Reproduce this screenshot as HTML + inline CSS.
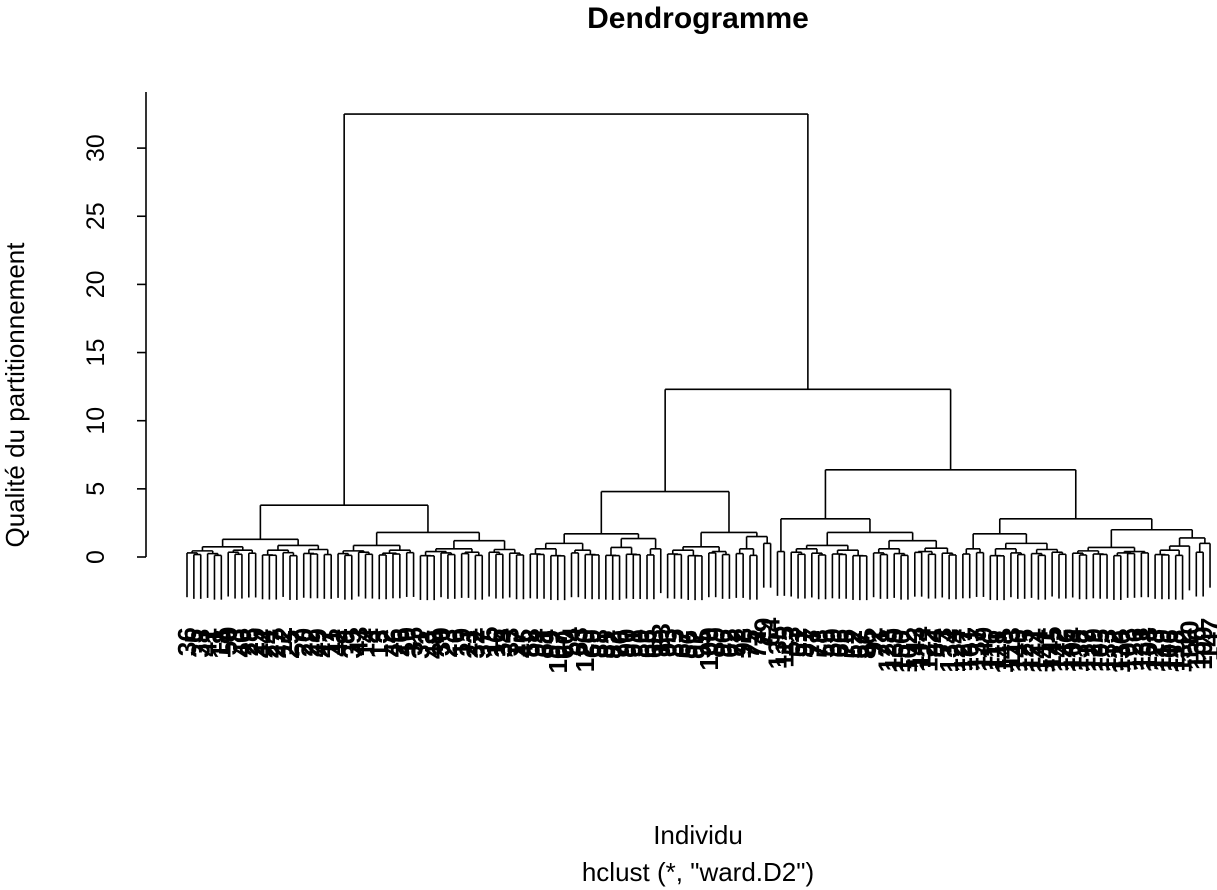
<!DOCTYPE html>
<html><head><meta charset="utf-8"><style>
body{margin:0;background:#fff;}
svg{display:block;font-family:"Liberation Sans",sans-serif;}
</style></head><body>
<svg id="c" width="1217" height="890" xmlns="http://www.w3.org/2000/svg">
<text x="698" y="28" font-size="30" font-weight="bold" text-anchor="middle">Dendrogramme</text>
<text x="698" y="844" font-size="26" text-anchor="middle">Individu</text>
<text x="698" y="881" font-size="26" text-anchor="middle">hclust (*, "ward.D2")</text>
<text transform="translate(24,395) rotate(-90)" font-size="26" text-anchor="middle">Qualité du partitionnement</text>
<g id="axis"></g>
<g id="tree" stroke="#000" stroke-width="1.6" fill="none"></g>
<g id="labels" font-size="26" font-weight="bold"></g>
</svg>
<script>
const treeSpec = [32.5,
  [3.8,
    [1.3, [0.75,[0.45,3,3],[0.5,3,2]], [0.85,[0.5,3,3],[0.55,3,2]]],
    [1.8, [0.85,[0.45,3,3],[0.5,4,2]], [1.2,[0.6,[0.4,3,3],[0.35,2,2]],[0.55,3,3]]]
  ],
  [12.3,
    [4.8,
      [1.7,[1.0,[0.6,3,3],[0.5,2,3]],[1.35,[0.7,3,3],[0.6,2,1]]],
      [1.8,[0.75,[0.5,3,3],[0.4,2,2]],[1.5,[0.6,2,2],[1.0,1,1]]]
    ],
    [6.4,
      [2.8,[0.4,1,1],[1.8,[0.85,[0.6,3,3],[0.5,3,3]],[1.2,[0.6,3,3],[0.65,[0.4,2,2],3]]]],
      [2.8,
        [1.7,[0.6,2,2],[1.0,[0.6,3,3],[0.55,3,3]]],
        [2.0,[0.7,[0.45,3,3],[0.4,[0.3,2,2],2]],[1.4,[0.8,[0.5,3,2],1],[1.0,2,1]]]
      ]
    ]
  ]
];
const blockHeights = [0.3,0.18,0.25,0.12,0.35,0.2,0.28,0.15,0.22,0.32,0.1,0.26];
const leafLabels = [36,5,38,41,1,18,50,8,40,28,29,44,24,27,12,25,7,20,22,49,47,11,
  42,9,39,43,14,4,13,2,46,26,10,35,31,3,48,30,23,6,19,21,32,37,15,16,34,33,17,45,
  58,94,61,99,107,60,54,63,120,69,88,81,82,70,90,91,80,65,68,83,
  93,85,67,56,97,95,100,89,96,62,72,98,75,74,79,64,
  135,115,53,51,87,77,78,55,59,66,76,52,57,86,92,71,128,139,150,102,143,114,122,84,73,134,124,127,
  101,137,149,116,111,148,113,140,125,121,144,141,145,142,146,104,
  138,117,129,105,133,112,130,103,126,131,108,123,119,106,118,132,110,136,109,147];
const yTicks = [0,5,10,15,20,25,30];

const X0=187, DX=6.866, Y0=557, KY=13.63, HANG=3.25;
const yS = v => Y0 - v*KY;
const tree=document.getElementById('tree'), lab=document.getElementById('labels'), ax=document.getElementById('axis');
const NS='http://www.w3.org/2000/svg';
let leafIdx=0, bh=0;
function line(x1,y1,x2,y2,name){
  const l=document.createElementNS(NS,'line');
  l.setAttribute('x1',x1);l.setAttribute('y1',y1);l.setAttribute('x2',x2);l.setAttribute('y2',y2);
  
  
  tree.appendChild(l);
}
function leaf(parentH){
  const x=X0+leafIdx*DX, yb=yS(parentH-HANG);
  line(x,yS(parentH),x,yb,'leaf-branch');
  const t=document.createElementNS(NS,'text');
  t.setAttribute('transform','translate('+(x+9)+','+(yb+30)+') rotate(-90)');
  t.setAttribute('text-anchor','end');
  t.textContent=leafLabels[leafIdx];
  
  
  lab.appendChild(t);
  leafIdx++;
  return x;
}
function nextH(ph){ const v=blockHeights[bh++%blockHeights.length]; return Math.min(v, ph*0.85); }
function block(n, ph){
  if(n===1) return {x:leaf(ph), h:null};
  const h=nextH(ph);
  const a=Math.floor(n/2), b=n-a;
  const l=blockSub(a,h), r=blockSub(b,h);
  line(l,yS(h),r,yS(h),'merge-bar');
  return {x:(l+r)/2,h:h};
}
function blockSub(n,h){
  if(n===1) return leaf(h);
  const res=block(n,h);
  line(res.x,yS(res.h),res.x,yS(h),'branch');
  return res.x;
}
function node(spec, ph){
  if(typeof spec==='number') return blockSub(spec,ph);
  const h=spec[0];
  const l=node(spec[1],h), r=node(spec[2],h);
  line(l,yS(h),r,yS(h),'merge-bar');
  const x=(l+r)/2;
  if(ph!=null) line(x,yS(h),x,yS(ph),'branch');
  return x;
}
node(treeSpec,null);

function axl(x1,y1,x2,y2,name){const l=document.createElementNS(NS,'line');
  l.setAttribute('x1',x1);l.setAttribute('y1',y1);l.setAttribute('x2',x2);l.setAttribute('y2',y2);
  l.setAttribute('stroke','#000');l.setAttribute('stroke-width','1.6');
  
  
  ax.appendChild(l);}
axl(146,92,146,yS(0),'y-axis-line');
yTicks.forEach(v=>{
  axl(137,yS(v),146,yS(v),'y-tick');
  const t=document.createElementNS(NS,'text');
  t.setAttribute('transform','translate(104,'+yS(v)+') rotate(-90)');
  t.setAttribute('text-anchor','middle');
  t.setAttribute('font-size','25');
  t.textContent=v;
  
  
  ax.appendChild(t);
});
</script>
</body></html>
